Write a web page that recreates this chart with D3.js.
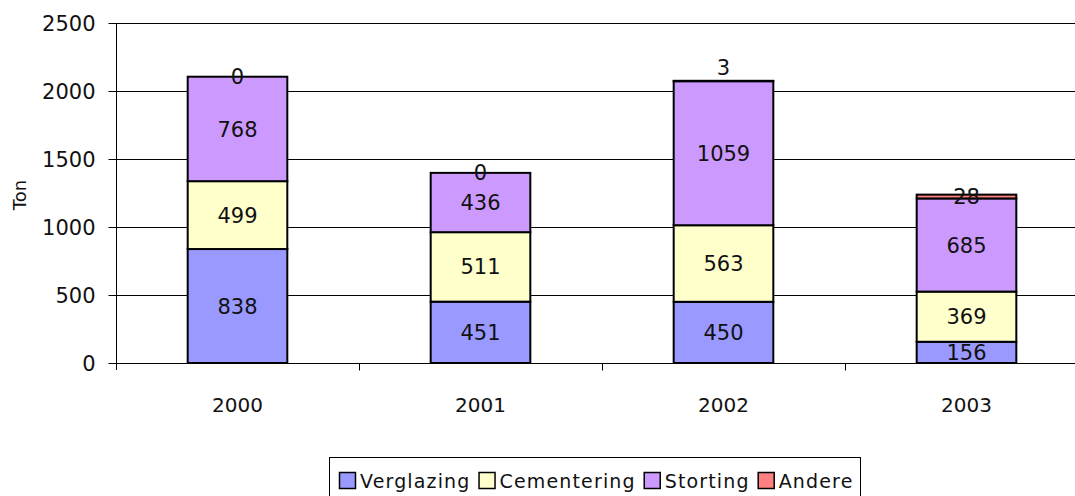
<!DOCTYPE html>
<html><head><meta charset="utf-8">
<script src="https://cdn.jsdelivr.net/npm/d3@7"></script>
<style>body{margin:0;background:#fff}svg{display:block}text{font-family:"DejaVu Sans",Verdana,sans-serif;fill:#111}</style>
</head><body><svg id="c" width="1075" height="496"></svg>
<script>
const categories = ["2000","2001","2002","2003"];
const seriesNames = ["Verglazing","Cementering","Storting","Andere"];
const verglazing = [838,451,450,156];
const cementering = [499,511,563,369];
const storting = [768,436,1059,685];
const andere = [0,0,3,28];
const yTicks = [0,500,1000,1500,2000,2500];
const colors = ["#9999FF","#FFFFCC","#CC99FF","#FF8080"];
const labelNudge = {"2002": -14};

const values = [verglazing, cementering, storting, andere];
const table = categories.map((c,i)=>{const o={cat:c}; seriesNames.forEach((s,j)=>o[s]=values[j][i]); return o;});
const stacked = d3.stack().keys(seriesNames)(table);

const svg = d3.select("#c");
const m = {l:116, t:23, b:363, r:1088};
const x = d3.scaleBand().domain(categories).range([m.l,m.r]).paddingInner(0.59).paddingOuter(0.295);
const xb = d3.scaleBand().domain(categories).range([m.l,m.r]);
const y = d3.scaleLinear().domain([0,2500]).range([m.b,m.t]);

// gridlines
svg.append("g").selectAll("line").data(yTicks.filter(t=>t>0)).join("line")
  .attr("x1",m.l).attr("x2",m.r).attr("y1",d=>y(d)+0.5).attr("y2",d=>y(d)+0.5)
  .attr("stroke","#000").attr("stroke-width",1);

// y axis
const ya = svg.append("g").attr("transform",`translate(${m.l+0.5},0)`)
  .call(d3.axisLeft(y).tickValues(yTicks).tickFormat(d3.format("d")).tickSize(8).tickPadding(13));
ya.select(".domain").attr("d",`M0,${m.t}V${m.b+7}`);
ya.selectAll("text").style("font-size","21px").attr("dy","0.36em");

// x axis
const xa = svg.append("g").attr("transform",`translate(0,${m.b+0.5})`);
xa.append("line").attr("x1",m.l).attr("x2",m.r).attr("stroke","#000");
xa.selectAll(".tk").data(categories.slice(1)).join("line")
  .attr("x1",d=>Math.round(xb(d))+0.5).attr("x2",d=>Math.round(xb(d))+0.5).attr("y1",0).attr("y2",7).attr("stroke","#000");
xa.selectAll("text").data(categories).join("text")
  .attr("x",d=>x(d)+x.bandwidth()/2).attr("y",41).attr("dy","0.36em").attr("text-anchor","middle")
  .style("font-size","20px").text(d=>d);

// bars
const g = svg.append("g");
stacked.forEach((layer,j)=>{
  g.append("g").selectAll("rect").data(layer).join("rect")
    .attr("x",d=>x(d.data.cat)).attr("width",x.bandwidth())
    .attr("y",d=>y(d[1])).attr("height",d=>y(d[0])-y(d[1]))
    .attr("fill",colors[j]).attr("stroke","#000").attr("stroke-width",2);
});
stacked.forEach((layer,j)=>{
  g.append("g").selectAll("text").data(layer).join("text")
    .attr("x",d=>x(d.data.cat)+x.bandwidth()/2)
    .attr("y",d=>(y(d[0])+y(d[1]))/2 + (j===3 && labelNudge[d.data.cat] ? labelNudge[d.data.cat] : 0))
    .attr("dy","0.36em").attr("text-anchor","middle").style("font-size","21px")
    .text(d=>d[1]-d[0]);
});

// y title
svg.append("text").attr("transform","translate(26,195) rotate(-90)").attr("text-anchor","middle")
  .style("font-size","18px").text("Ton");

// legend
const lg = svg.append("g");
lg.append("rect").attr("x",329.5).attr("y",457.5).attr("width",531).attr("height",50).attr("fill","#fff").attr("stroke","#000");
const items = lg.selectAll("g").data(seriesNames).join("g");
let cx = 339;
items.each(function(d,i){
  const it = d3.select(this).attr("transform",`translate(${cx},0)`);
  it.append("rect").attr("x",0.5).attr("y",472.5).attr("width",16).attr("height",16).attr("fill",colors[i]).attr("stroke","#000").attr("stroke-width",1.5);
  const t = it.append("text").attr("x",21).attr("y",481).attr("dy","0.36em").style("font-size","19px").style("letter-spacing","1.15px").text(d);
  cx += 21 + t.node().getComputedTextLength() + 8;
});
</script></body></html>
